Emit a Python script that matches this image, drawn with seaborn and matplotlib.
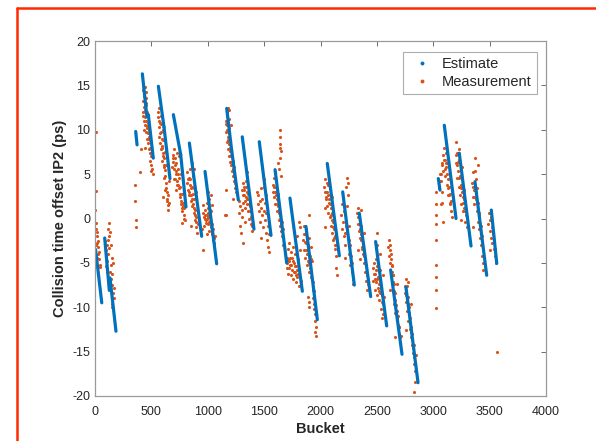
# Collision time offset per bucket: estimate (blue segments) vs measurement (orange dots)
import numpy as np
import pandas as pd
import matplotlib
matplotlib.use("Agg")
import matplotlib.pyplot as plt
from matplotlib.lines import Line2D
import seaborn as sns

# Estimate: one straight segment per train (start/end bucket, start/end offset)
est_start_bucket = [5, 86, 133, 361, 420, 473, 562, 612, 695, 760, 837, 976, 1168, 1212, 1306,
                    1457, 1597, 1729, 1871, 2060, 2197, 2344, 2489, 2622, 2758, 3045, 3098, 3231, 3370, 3515]
est_end_bucket = [60, 127, 186, 373, 460, 517, 612, 665, 760, 807, 946, 1079, 1212, 1271, 1410,
                  1561, 1700, 1839, 1972, 2167, 2300, 2445, 2587, 2723, 2865, 3060, 3202, 3335, 3474, 3563]
est_start_offset = [-3.5, -2.2, -6.7, 9.8, 16.3, 11.7, 14.9, 10.3, 11.7, 7.2, 8.5, 5.3, 12.4, 7.7, 9.2,
                    8.65, 5.5, 2.3, -0.9, 6.2, 3.0, 0.6, -2.6, -5.8, -7.75, 4.5, 10.5, 7.35, 4.15, 0.95]
est_end_offset = [-9.5, -8.1, -12.7, 8.3, 11.5, 6.8, 10.3, 4.5, 7.2, 1.3, -2.0, -5.1, 7.7, 2.1, -1.2,
                  -1.9, -5.0, -8.2, -11.4, -4.2, -7.5, -8.8, -12.1, -15.3, -18.5, 3.2, 0.0, -3.1, -6.4, -5.05]

# Measurements, read cluster by cluster (bucket, offset in ps)
meas_a = [(5, 9.8), (5, 3.1), (3, 1.0), (8, -0.5), (12, -1.2), (15, -2.0), (18, -2.8), (20, -1.5),
          (25, -3.2), (28, -4.0), (30, -2.5), (35, -3.8), (38, -4.6), (40, -5.2), (10, -3.0),
          (22, -4.4), (45, -5.5)]
meas_b = [(90, -2.5), (95, -3.6), (100, -4.2), (105, -3.0), (110, -4.8), (115, -1.2), (120, -0.5),
          (125, -2.0), (128, -3.3), (132, -1.5), (135, -6.0), (140, -5.2), (145, -6.8), (150, -7.5),
          (155, -6.2), (160, -8.4), (165, -9.0), (170, -7.8), (152, -9.6), (100, -5.4), (108, -6.0),
          (118, -4.0), (138, -3.0), (148, -4.5), (158, -5.0), (150, -10.0), (112, -2.4)]
meas_c = [(355, 3.8), (358, 2.0), (360, -0.2), (362, -1.0), (400, 5.2), (405, 7.8)]
meas_d = [(425, 13.2), (428, 12.0), (430, 14.5), (432, 11.0), (435, 12.6), (438, 13.8), (440, 10.5),
          (442, 12.2), (445, 11.4), (448, 13.0), (450, 9.8), (452, 12.8), (455, 11.0), (458, 10.2),
          (460, 12.0), (462, 9.0), (465, 11.5), (468, 10.8), (470, 8.5), (475, 10.0), (478, 9.2),
          (480, 7.8), (485, 8.8), (488, 6.5), (490, 7.4), (495, 6.0), (500, 7.0), (505, 5.6),
          (442, 8.0), (455, 14.2), (436, 10.0), (432, 14.0), (446, 12.0), (450, 13.6), (458, 11.8),
          (463, 10.4), (472, 9.6), (482, 9.0), (492, 8.0), (498, 5.4), (510, 5.0), (426, 11.6),
          (440, 14.8)]
meas_e = [(560, 12.0), (565, 11.0), (568, 10.3), (570, 12.4), (575, 9.6), (578, 10.8), (580, 8.5),
          (585, 9.8), (588, 7.8), (590, 9.0), (595, 8.2), (598, 6.5), (600, 7.4), (605, 8.8),
          (608, 5.8), (612, 6.8), (615, 4.6), (620, 5.5), (625, 3.2), (630, 4.0), (635, 2.0),
          (640, 3.0), (645, 1.5), (650, 2.6), (582, 11.5), (600, 10.0), (618, 7.5), (628, 6.0),
          (655, 4.2), (605, 2.4), (562, 11.4), (572, 9.2), (586, 10.6), (592, 8.0), (602, 7.0),
          (610, 6.0), (622, 4.8), (632, 3.4), (642, 2.2), (648, 1.0), (655, 1.8)]
meas_f = [(690, 7.2), (695, 6.4), (700, 7.8), (705, 5.6), (710, 6.8), (715, 5.0), (720, 6.2),
          (725, 7.4), (730, 4.2), (735, 5.6), (740, 3.8), (745, 4.6), (750, 2.8), (755, 3.6),
          (760, 2.0), (765, 1.6), (770, 2.8), (775, 0.8), (780, 1.8), (785, 0.4), (790, 1.2),
          (795, -0.2), (700, 4.5), (718, 3.2), (742, 7.0), (760, 5.0), (772, -0.5), (680, 5.8),
          (692, 6.8), (708, 6.0), (722, 5.4), (732, 5.0), (748, 3.4), (758, 2.4), (768, 1.2),
          (778, 1.4), (788, 0.0), (727, 3.8), (712, 4.4)]
meas_g = [(815, 4.0), (820, 5.2), (825, 3.2), (830, 4.6), (835, 2.6), (840, 3.8), (845, 5.6),
          (850, 2.0), (855, 3.4), (860, 1.4), (865, 2.8), (870, 4.8), (875, 0.6), (880, 2.2),
          (885, -0.2), (890, 1.0), (895, -1.0), (900, 0.2), (905, -1.6), (910, -0.6), (860, 6.2),
          (875, 5.6), (850, -0.8), (895, 3.0), (822, 4.4), (838, 3.0), (848, 2.6), (858, 2.2),
          (868, 1.6), (878, 1.2), (888, 0.4), (898, -0.4), (842, 4.4), (862, 3.6), (882, 3.4)]
meas_h = [(960, 1.5), (965, 0.2), (970, -0.8), (975, 1.0), (980, 0.4), (985, -0.5), (990, 1.8),
          (995, 0.0), (1000, -0.6), (1005, 0.6), (1010, -1.4), (1015, 0.2), (1020, -0.3),
          (1025, -1.0), (1030, 0.8), (1035, -1.8), (1040, -0.6), (1045, -2.4), (1050, -1.2),
          (1055, -2.8), (1060, -2.0), (990, -1.8), (1010, 2.2), (1030, 2.6), (1040, 1.5),
          (1000, 3.0), (945, -1.2), (955, -3.6), (1153, 0.4), (962, 0.6), (972, 0.0), (982, -0.2),
          (992, 0.4), (1002, 0.2), (1012, -0.4), (1022, 0.4), (1032, -0.8), (1042, -1.6),
          (1052, -2.2), (998, 1.2), (1018, 1.0)]
meas_i = [(1160, 11.0), (1165, 9.8), (1168, 12.0), (1170, 10.5), (1172, 8.6), (1175, 11.6),
          (1178, 9.2), (1180, 10.8), (1182, 7.8), (1185, 9.6), (1188, 8.4), (1190, 10.2),
          (1192, 7.0), (1195, 8.8), (1198, 6.4), (1200, 7.6), (1205, 6.0), (1210, 7.2), (1215, 5.4),
          (1220, 6.5), (1225, 4.8), (1230, 5.8), (1235, 4.2), (1240, 3.4), (1245, 4.6), (1250, 3.0),
          (1160, 3.2), (1162, 0.4), (1190, 12.2), (1210, 10.5), (1228, 2.2), (1166, 10.6),
          (1174, 10.0), (1184, 8.8), (1194, 8.0), (1202, 7.0), (1212, 6.4), (1222, 5.6), (1232, 5.0),
          (1242, 4.0), (1176, 12.4), (1186, 11.2)]
meas_j = [(1275, 2.0), (1280, 0.6), (1285, -0.8), (1290, 1.4), (1295, -1.6), (1300, 0.2),
          (1305, 3.2), (1310, 1.8), (1315, 4.0), (1320, 2.6), (1325, 3.6), (1330, 1.2), (1335, 2.4),
          (1340, 4.2), (1345, 3.0), (1350, 1.6), (1355, 2.8), (1360, 0.8), (1365, 2.2), (1370, 0.0),
          (1375, 1.4), (1380, -0.6), (1385, 0.8), (1390, -1.4), (1345, 5.2), (1330, -0.4),
          (1310, -2.8), (1302, 1.0), (1312, 2.6), (1322, 3.2), (1332, 2.0), (1342, 3.6), (1352, 2.2),
          (1362, 1.6), (1372, 0.8), (1382, 0.2), (1392, -0.8)]
meas_k = [(1440, 3.0), (1445, 1.6), (1450, 2.6), (1455, 0.8), (1460, 2.0), (1465, -0.4),
          (1470, 1.2), (1475, 3.4), (1480, 0.4), (1485, 2.2), (1490, -1.0), (1495, 0.8), (1500, 3.6),
          (1505, -0.2), (1510, 1.8), (1515, -1.6), (1520, 0.6), (1525, -2.4), (1530, -0.8),
          (1535, -3.2), (1540, -1.8), (1545, -3.8), (1470, -2.2), (1500, 4.4), (1520, 2.6)]
meas_l = [(1580, 3.8), (1585, 2.4), (1590, 4.6), (1595, 3.0), (1600, 1.6), (1605, 3.6), (1610, 2.2),
          (1615, 0.8), (1620, 2.8), (1625, 1.4), (1630, -0.2), (1635, 1.0), (1640, -0.8), (1645, 0.4),
          (1650, -1.4), (1655, -0.4), (1660, -2.0), (1640, 10.0), (1645, 9.2), (1638, 8.4),
          (1650, 7.6), (1642, 6.8), (1635, 5.6), (1620, 6.2), (1648, 4.8), (1665, -3.0), (1670, -1.2),
          (1582, 3.0), (1592, 3.6), (1602, 2.6), (1612, 1.6), (1622, 2.0), (1632, 0.6), (1642, 0.0),
          (1652, -0.6), (1662, -1.4), (1644, 8.0)]
meas_m = [(1700, -4.4), (1705, -5.6), (1710, -3.4), (1715, -6.2), (1720, -4.8), (1725, -2.8),
          (1730, -5.2), (1735, -3.8), (1740, -6.4), (1745, -4.4), (1750, -5.8), (1755, -3.2),
          (1760, -6.8), (1765, -5.0), (1770, -4.0), (1775, -6.0), (1780, -7.2), (1785, -5.4),
          (1790, -2.0), (1795, -6.6), (1800, -4.6), (1805, -7.6), (1810, -5.8), (1815, -3.6),
          (1820, -1.0), (1812, -0.4), (1825, -7.0), (1702, -5.0), (1712, -4.6), (1722, -5.6),
          (1732, -4.4), (1742, -5.2), (1752, -4.8), (1762, -6.0), (1772, -5.4), (1782, -6.4),
          (1792, -5.8), (1802, -6.2)]
meas_n = [(1845, -2.4), (1850, -0.8), (1855, -3.6), (1860, -1.8), (1865, -4.4), (1870, -2.8),
          (1875, -1.2), (1880, -5.2), (1885, -3.6), (1890, -4.8), (1895, -2.2), (1900, -6.0),
          (1905, -4.2), (1910, -5.6), (1915, -3.2), (1920, -6.6), (1890, -8.8), (1895, -10.0),
          (1900, -9.4), (1925, -4.8), (1930, -7.2), (1935, -9.0), (1940, -8.2), (1945, -10.2),
          (1950, -11.6), (1955, -12.8), (1960, -12.2), (1958, -13.2), (1900, 0.4), (1852, -1.8),
          (1862, -2.6), (1872, -3.6), (1882, -4.0), (1892, -3.0), (1902, -5.0), (1912, -4.6),
          (1942, -9.6), (1952, -10.8), (1932, -8.0)]
meas_o = [(2035, 3.6), (2040, 4.4), (2045, 2.2), (2050, 3.0), (2055, 1.4), (2060, 4.0), (2065, 2.6),
          (2070, 0.6), (2075, 1.8), (2080, 3.4), (2085, 0.2), (2090, 1.2), (2095, -0.8), (2100, 0.6),
          (2105, -1.6), (2110, -0.4), (2115, -2.4), (2120, -1.2), (2125, -3.4), (2130, -2.0),
          (2135, -4.2), (2140, -5.6), (2145, -3.0), (2150, -6.4), (2040, 1.2), (2070, 3.8),
          (2100, 2.4), (2038, -1.0), (2042, 3.0), (2052, 2.4), (2062, 3.0), (2072, 2.2), (2082, 1.6),
          (2092, 0.4), (2102, -0.2), (2112, -1.0), (2122, -2.2), (2132, -3.0)]
meas_p = [(2185, 0.4), (2190, -1.2), (2195, 1.6), (2200, -0.4), (2205, -2.0), (2210, 0.8),
          (2215, -1.6), (2220, -3.0), (2225, -0.8), (2230, 3.6), (2235, 4.6), (2240, 2.6),
          (2245, 4.0), (2238, 1.4), (2250, -2.4), (2255, -4.0), (2260, -3.0), (2265, -5.2),
          (2270, -4.2), (2275, -6.0), (2280, -5.0), (2285, -6.8), (2290, -7.4), (2215, -4.4),
          (2255, -0.8)]
meas_q = [(2325, 0.6), (2330, -0.6), (2335, 1.2), (2340, -1.4), (2345, 0.2), (2350, -2.2),
          (2355, -0.8), (2360, -1.8), (2365, -3.2), (2370, -2.4), (2375, -4.0), (2380, -3.0),
          (2385, -5.0), (2390, -4.2), (2395, -6.0), (2400, -5.2), (2405, -7.0), (2410, -6.4),
          (2415, -8.0), (2420, -7.4), (2330, -3.6), (2360, 1.0), (2390, -1.6), (2350, -4.6),
          (2332, 0.2), (2342, -0.6), (2352, -1.2), (2362, -2.4), (2372, -3.4), (2382, -4.0),
          (2392, -5.0), (2402, -6.0), (2412, -7.0)]
meas_r = [(2465, -5.6), (2470, -7.0), (2475, -5.0), (2480, -8.0), (2485, -6.2), (2490, -4.6),
          (2495, -7.2), (2500, -5.4), (2505, -8.6), (2510, -6.6), (2515, -9.2), (2520, -7.4),
          (2525, -5.8), (2530, -8.4), (2535, -10.2), (2540, -7.8), (2545, -9.4), (2550, -6.4),
          (2555, -10.8), (2560, -8.8), (2500, -3.0), (2498, -1.6), (2530, -4.0), (2545, -11.2),
          (2472, -6.2), (2482, -6.8), (2492, -5.8), (2502, -6.8), (2512, -7.8), (2522, -8.2),
          (2532, -7.0), (2542, -8.6), (2552, -9.6)]
meas_s = [(2600, -3.2), (2605, -2.4), (2610, -4.2), (2615, -3.0), (2620, -5.0), (2625, -4.0),
          (2630, -6.0), (2635, -5.4), (2640, -7.2), (2645, -6.4), (2650, -8.2), (2655, -9.6),
          (2660, -8.4), (2665, -10.6), (2670, -9.8), (2675, -11.2), (2680, -10.4), (2685, -12.0),
          (2690, -11.0), (2695, -13.0), (2700, -12.2), (2705, -14.0), (2710, -13.2), (2620, -8.0),
          (2680, -7.4), (2665, -13.4), (2612, -3.6), (2622, -4.6), (2632, -5.2), (2642, -6.4),
          (2652, -7.4), (2662, -9.2), (2672, -10.4), (2682, -11.4), (2692, -12.2), (2702, -13.4)]
meas_t = [(2750, -8.4), (2755, -6.8), (2760, -9.4), (2765, -7.6), (2770, -10.4), (2775, -8.8),
          (2780, -11.6), (2785, -10.0), (2790, -12.4), (2795, -11.2), (2800, -13.4), (2805, -12.2),
          (2810, -14.2), (2815, -13.0), (2820, -15.2), (2825, -14.2), (2830, -16.4), (2835, -17.2),
          (2840, -18.4), (2828, -19.6), (2780, -7.2), (2800, -9.6), (2760, -12.6), (2845, -15.4),
          (2752, -7.6), (2762, -8.6), (2772, -9.6), (2782, -10.6), (2792, -11.8), (2802, -12.8),
          (2812, -13.6), (2822, -14.6), (2832, -15.6)]
meas_gap = [(3024, 0.4), (3024, -0.6), (3024, -2.4), (3024, -5.2), (3024, -6.6), (3024, -8.1),
            (3024, -10.1), (3024, 1.6), (3026, 3.0)]
meas_u = [(3055, 3.4), (3060, 5.0), (3065, 1.6), (3070, 4.2), (3075, 6.0), (3080, 3.0), (3085, 7.2),
          (3090, 5.4), (3095, 8.0), (3100, 6.6), (3105, 4.8), (3110, 7.4), (3115, 5.8), (3120, 3.8),
          (3125, 6.2), (3130, 4.4), (3135, 2.6), (3140, 3.6), (3145, 1.6), (3150, 2.8), (3155, 0.8),
          (3160, 2.0), (3165, 0.2), (3085, -0.4), (3075, 1.8), (3062, 4.2), (3072, 5.0), (3082, 6.2),
          (3092, 6.6), (3102, 5.6), (3112, 6.2), (3122, 5.0), (3132, 3.4), (3142, 2.6), (3152, 1.8)]
meas_v = [(3200, 6.2), (3205, 8.6), (3210, 4.6), (3215, 7.4), (3220, 5.4), (3225, 3.6), (3230, 6.6),
          (3235, 2.6), (3240, 4.8), (3245, 3.4), (3250, 1.6), (3255, 5.8), (3260, 2.4), (3265, 0.8),
          (3270, 3.2), (3275, 1.2), (3280, -0.4), (3285, 2.0), (3290, 0.4), (3295, -1.0),
          (3228, 7.8), (3250, -0.2), (3202, 7.2), (3212, 6.0), (3222, 6.4), (3232, 4.6), (3242, 3.8),
          (3252, 3.0), (3262, 1.8), (3272, 2.2), (3282, 0.8)]
meas_w = [(3345, 4.0), (3350, 2.4), (3355, 5.2), (3360, 3.2), (3365, 1.6), (3370, 6.8), (3375, 4.4),
          (3380, 2.2), (3385, 0.8), (3390, 3.4), (3395, -0.4), (3400, 1.8), (3405, -1.2), (3410, 0.4),
          (3415, -2.2), (3420, -0.8), (3425, -3.0), (3430, -4.2), (3435, -2.0), (3440, -5.0),
          (3445, -5.8), (3395, 6.0), (3350, -1.0), (3352, 3.6), (3362, 2.4), (3372, 5.4), (3382, 3.0),
          (3392, 1.8), (3402, 0.6), (3412, -0.6), (3422, -1.8), (3432, -3.0)]
meas_x = [(3490, -0.6), (3495, 0.6), (3500, -1.4), (3505, -0.2), (3510, -2.2), (3515, 0.2),
          (3520, -1.0), (3525, -2.8), (3530, -1.8), (3535, -3.4), (3540, -2.4), (3545, -4.2),
          (3550, -3.4), (3555, -5.0), (3505, -3.6), (3568, -15.0)]

clusters = [meas_a, meas_b, meas_c, meas_d, meas_e, meas_f, meas_g, meas_h, meas_i, meas_j,
            meas_k, meas_l, meas_m, meas_n, meas_o, meas_p, meas_q, meas_r, meas_s, meas_t,
            meas_gap, meas_u, meas_v, meas_w, meas_x]
meas_df = pd.DataFrame([p for c in clusters for p in c], columns=["Bucket", "Offset"])

est_df = pd.DataFrame({
    "seg": list(range(len(est_start_bucket))) * 2,
    "Bucket": est_start_bucket + est_end_bucket,
    "Offset": est_start_offset + est_end_offset,
})

blue = "#0072BD"
orange = "#D95319"

sns.set_style("white")
plt.rcParams["font.family"] = ["Liberation Sans", "DejaVu Sans"]
plt.rcParams["axes.unicode_minus"] = False

fig = plt.figure(figsize=(5.96, 4.41), dpi=100)
ax = fig.add_axes([95 / 596, 1 - 396 / 441, (546 - 95) / 596, (396 - 41) / 441])

sns.lineplot(data=est_df, x="Bucket", y="Offset", units="seg", estimator=None,
             color=blue, linewidth=2.3, ax=ax, legend=False)
sns.scatterplot(data=meas_df, x="Bucket", y="Offset", color=orange, s=5,
                linewidth=0, ax=ax, legend=False)

ax.set_xlim(0, 4000)
ax.set_ylim(-20, 20)
ax.set_xticks(range(0, 4001, 500))
ax.set_yticks(range(-20, 21, 5))
ax.tick_params(direction="in", length=3.5, width=0.6, color="#555555",
               labelsize=9, labelcolor="#262626", top=True, right=True)
ax.tick_params(axis="x", pad=7)
ax.tick_params(axis="y", pad=3.5)
for s in ax.spines.values():
    s.set_visible(True)
    s.set_color("#9a9a9a")
    s.set_linewidth(0.9)

ax.set_xlabel("Bucket", fontsize=10.5, fontweight="bold", color="#262626", labelpad=3)
ax.set_ylabel("Collision time offset IP2 (ps)", fontsize=10.5, fontweight="bold",
              color="#262626", labelpad=4)

handles = [Line2D([], [], linestyle="none", marker="o", markersize=1.8, color=blue, label="Estimate"),
           Line2D([], [], linestyle="none", marker="o", markersize=1.8, color=orange, label="Measurement")]
leg = ax.legend(handles=handles, loc="upper right", fontsize=10.5, frameon=True, fancybox=False,
                edgecolor="#9a9a9a", handlelength=1.9, handletextpad=0.45, borderpad=0.35,
                labelspacing=0.25, borderaxespad=0, bbox_to_anchor=(0.98, 0.969))
leg.get_frame().set_linewidth(0.8)
for t in leg.get_texts():
    t.set_color("#262626")

# red frame around the figure (left and top edges visible)
fig.add_artist(Line2D([16.5 / 596, 16.5 / 596], [0, 1 - 7.5 / 441], color="#FF2A00", linewidth=1.8))
fig.add_artist(Line2D([16.5 / 596, 1], [1 - 7.5 / 441, 1 - 7.5 / 441], color="#FF2A00", linewidth=1.8))

fig.savefig("out.png", dpi=100)
